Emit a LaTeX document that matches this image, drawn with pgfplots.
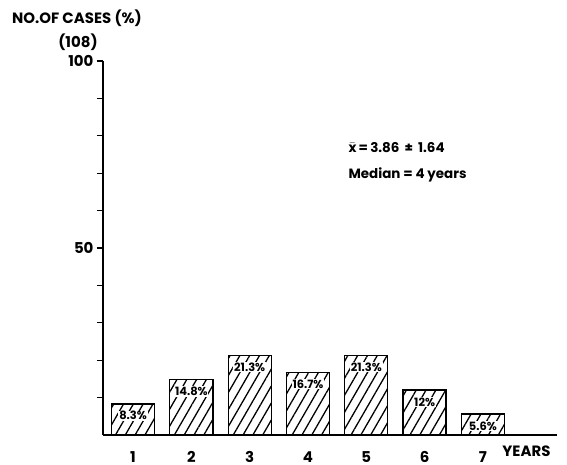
\documentclass[border=0pt]{standalone}
\usepackage{pgfplots}
\pgfplotsset{compat=1.18}
\usepackage{fontspec}
\setmainfont{Poppins}
\usetikzlibrary{patterns.meta}
\begin{document}
\begin{tikzpicture}[x=1bp,y=1bp]
\path (-103,-30) rectangle (464,435);
\begin{axis}[
  at={(0,0)}, anchor=south west,
  scale only axis, width=454bp, height=374bp,
  xmin=0.485, xmax=8.27, ymin=0, ymax=100,
  axis x line*=bottom, axis y line*=left,
  axis line style={line width=1.6pt},
  /pgf/number format/assume math mode=true,
  ybar, bar width=43bp,
  xtick={1,...,7},
  xtick style={draw=none},
  xticklabel style={anchor=base, yshift=-22bp, inner sep=0pt},
  ytick={10,20,...,100},
  yticklabels={,,,,50,,,,,100},
  tick align=outside,
  ytick style={line width=1.2pt, black},
  major tick length=6bp,
  ticklabel style={font=\bfseries\fontsize{15}{15}\selectfont},
  nodes near coords={\pgfmathprintnumber{\pgfplotspointmeta}\%},
  nodes near coords style={anchor=north, yshift=-6bp, fill=white, inner sep=0.8pt, font=\bfseries\fontsize{11.5}{12}\selectfont},
  clip=false,
]
\addplot[draw=black, line width=1.3pt, pattern={Lines[angle=60,distance=8.5bp,line width=1.3pt]}]
  coordinates {(1,8.3) (2,14.8) (3,21.3) (4,16.7) (5,21.3) (6,12) (7,5.6)};
\node[anchor=base west, inner sep=0pt, font=\bfseries\fontsize{15}{15}\selectfont] at ([yshift=-22bp]axis cs:7.33,0) {YEARS};
\end{axis}
\node[font=\bfseries\fontsize{15}{15}\selectfont] at (-26,417) {NO.OF CASES (\%)};
\node[font=\bfseries\fontsize{15}{15}\selectfont] at (-25,393) {(108)};
\node[anchor=west, font=\bfseries\fontsize{13.5}{13.5}\selectfont] at (242,287) {\ensuremath{\bar{\hbox{x}}}\,=\,3.86 \,±\, 1.64};
\node[anchor=west, font=\bfseries\fontsize{13.5}{13.5}\selectfont] at (242,260) {Median = 4 years};
\end{tikzpicture}
\end{document}
